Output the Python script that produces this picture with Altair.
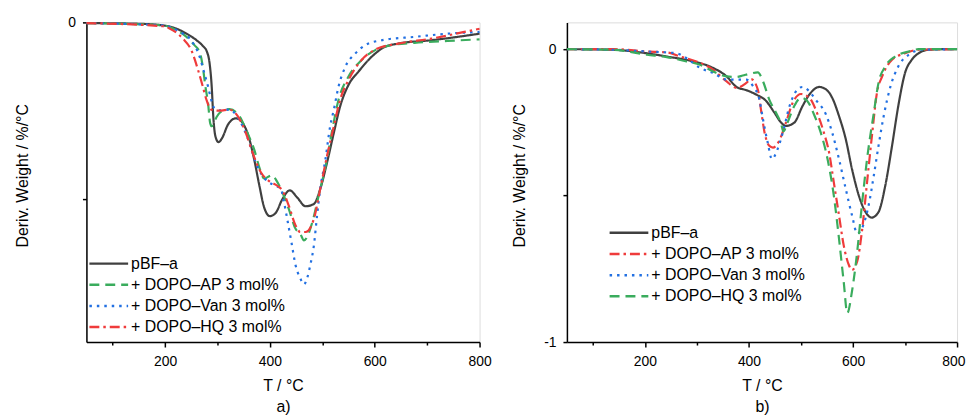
import altair as alt
import pandas as pd

FONT = "Liberation Sans"
NAMES = ["pBF–a", "+ DOPO–AP 3 mol%", "+ DOPO–Van 3 mol%", "+ DOPO–HQ 3 mol%"]

# ---------------- panel a) ----------------
TA_PBF = [50, 140, 196, 222, 241, 260, 272, 280, 285, 289, 292, 296, 302, 309, 320, 335, 348, 361, 370, 380,
          389, 400, 411, 424, 438, 452, 468, 484, 496, 509, 522, 534, 550, 569, 594, 619, 645, 708, 758, 800]
VA_PBF = [-0.004, -0.007, -0.017, -0.036, -0.064, -0.101, -0.133, -0.167, -0.232, -0.363, -0.532, -0.644,
          -0.678, -0.654, -0.579, -0.543, -0.569, -0.663, -0.775, -0.925, -1.047, -1.097, -1.079, -1.000,
          -0.951, -0.991, -1.041, -1.028, -0.944, -0.794, -0.625, -0.476, -0.354, -0.279, -0.195, -0.139,
          -0.120, -0.101, -0.082, -0.064]

TA_AP = [50, 196, 222, 241, 256, 266, 272, 277, 282, 286, 289, 294, 304, 323, 342, 357, 370, 380, 389, 404,
         414, 424, 436, 449, 458, 465, 481, 493, 509, 518, 531, 550, 575, 601, 632, 676, 739, 800]
VA_AP = [-0.004, -0.017, -0.045, -0.082, -0.129, -0.167, -0.251, -0.363, -0.457, -0.569, -0.588, -0.560,
         -0.513, -0.491, -0.532, -0.625, -0.719, -0.822, -0.884, -0.865, -0.903, -0.963, -1.056, -1.169,
         -1.197, -1.234, -1.131, -0.981, -0.775, -0.625, -0.438, -0.307, -0.213, -0.157, -0.129, -0.116,
         -0.105, -0.096]

TA_VAN = [50, 196, 228, 247, 266, 275, 282, 288, 294, 304, 323, 335, 348, 361, 373, 386, 398, 411, 421, 427,
          433, 441, 449, 458, 465, 471, 477, 484, 490, 496, 506, 515, 522, 531, 544, 563, 582, 613, 676, 739, 800]
VA_VAN = [-0.004, -0.017, -0.054, -0.092, -0.195, -0.288, -0.363, -0.438, -0.485, -0.498, -0.494, -0.522,
          -0.588, -0.682, -0.794, -0.869, -0.906, -0.925, -0.944, -1.019, -1.112, -1.243, -1.375, -1.449,
          -1.483, -1.449, -1.375, -1.262, -1.094, -0.944, -0.775, -0.588, -0.494, -0.363, -0.251, -0.176,
          -0.129, -0.101, -0.082, -0.064, -0.054]

TA_HQ = [50, 196, 215, 234, 250, 263, 272, 279, 288, 304, 323, 339, 354, 367, 383, 398, 414, 424, 436, 449,
         458, 468, 484, 496, 509, 522, 534, 550, 575, 601, 645, 708, 771, 800]
VA_HQ = [-0.004, -0.022, -0.045, -0.092, -0.157, -0.270, -0.363, -0.438, -0.494, -0.500, -0.494, -0.532,
         -0.625, -0.738, -0.850, -0.897, -0.925, -0.953, -1.037, -1.150, -1.187, -1.187, -1.112, -0.944,
         -0.757, -0.588, -0.438, -0.326, -0.213, -0.154, -0.120, -0.092, -0.054, -0.036]

# ---------------- panel b) ----------------
TB_PBF = [50, 140, 191, 242, 293, 331, 357, 376, 395, 414, 433, 449, 462, 471, 487, 503, 516, 535, 547, 560,
          573, 586, 598, 611, 624, 636, 649, 662, 675, 687, 700, 713, 726, 745, 776, 800]
VB_PBF = [0, -0.002, -0.011, -0.025, -0.042, -0.064, -0.093, -0.129, -0.140, -0.155, -0.177, -0.217, -0.251,
          -0.262, -0.251, -0.194, -0.155, -0.129, -0.136, -0.166, -0.228, -0.307, -0.409, -0.499, -0.556,
          -0.575, -0.556, -0.466, -0.330, -0.194, -0.081, -0.036, -0.014, -0.002, 0, 0]

TB_AP = [50, 140, 204, 242, 268, 299, 331, 357, 376, 395, 404, 417, 423, 430, 439, 446, 458, 471, 484, 500,
         516, 532, 544, 554, 563, 573, 582, 592, 598, 608, 617, 627, 637, 646, 656, 675, 700, 726, 800]
VB_AP = [0, 0, -0.008, -0.011, -0.025, -0.042, -0.070, -0.110, -0.132, -0.115, -0.102, -0.138, -0.206,
         -0.285, -0.330, -0.336, -0.313, -0.251, -0.183, -0.153, -0.166, -0.223, -0.285, -0.353, -0.454,
         -0.567, -0.669, -0.737, -0.754, -0.725, -0.624, -0.454, -0.285, -0.149, -0.093, -0.036, -0.014,
         -0.002, 0]

TB_VAN = [50, 140, 204, 261, 280, 306, 331, 357, 376, 395, 408, 420, 427, 436, 444, 455, 465, 478, 493, 503,
          516, 528, 548, 560, 573, 586, 598, 608, 617, 630, 640, 649, 659, 672, 687, 707, 732, 800]
VB_VAN = [0, -0.002, -0.008, -0.014, -0.031, -0.064, -0.081, -0.104, -0.104, -0.104, -0.127, -0.172, -0.240,
          -0.319, -0.375, -0.341, -0.285, -0.194, -0.138, -0.129, -0.144, -0.172, -0.223, -0.285, -0.375,
          -0.477, -0.567, -0.629, -0.612, -0.533, -0.431, -0.330, -0.228, -0.127, -0.059, -0.019, -0.002, 0]

TB_HQ = [50, 140, 204, 242, 280, 306, 331, 357, 376, 388, 401, 417, 427, 439, 452, 462, 466, 474, 487, 500,
         512, 525, 538, 551, 563, 573, 582, 589, 598, 608, 617, 627, 640, 649, 662, 681, 707, 726, 800]
VB_HQ = [0, -0.002, -0.019, -0.027, -0.042, -0.053, -0.076, -0.093, -0.095, -0.090, -0.084, -0.079, -0.110,
         -0.172, -0.217, -0.256, -0.281, -0.251, -0.194, -0.166, -0.177, -0.223, -0.285, -0.375, -0.499,
         -0.646, -0.793, -0.901, -0.827, -0.692, -0.533, -0.375, -0.217, -0.115, -0.059, -0.025, -0.008, 0, 0]

GRAY, GREEN, BLUE, RED = "#404040", "#3aac5d", "#2270e2", "#ef3b3b"
SOLID, DASH, DOT, DASHDOT = [1, 0], [10, 6], [2.5, 5], [10, 4, 2.5, 4]


def frame(series):
    rows = []
    for name, ts, vs in series:
        for t, v in zip(ts, vs):
            rows.append({"series": name, "T": t, "v": v})
    return pd.DataFrame(rows)


df_a = frame([(NAMES[0], TA_PBF, VA_PBF), (NAMES[1], TA_AP, VA_AP),
              (NAMES[2], TA_VAN, VA_VAN), (NAMES[3], TA_HQ, VA_HQ)])
df_b = frame([(NAMES[0], TB_PBF, VB_PBF), (NAMES[1], TB_AP, VB_AP),
              (NAMES[2], TB_VAN, VB_VAN), (NAMES[3], TB_HQ, VB_HQ)])


def xaxis(sub, flush):
    return alt.Axis(
        title=["T / °C", sub], values=[100, 200, 300, 400, 500, 600, 700, 800],
        labelExpr="datum.value % 200 == 0 ? datum.label : ''",
        tickSize={"condition": {"test": "datum.value % 200 == 0", "value": 5}, "value": 3},
        labelPadding=8, labelFontSize=14, labelFont=FONT, labelColor="black",
        labelFlush=flush, labelFlushOffset=8 if flush else 0, labelOverlap=False,
        titleFontSize=16, titleFont=FONT, titleFontWeight="normal", titleColor="black",
        titleLineHeight=21, titleY=36, titleBaseline="top",
        domainColor="black", domainWidth=1.5, tickColor="black", tickWidth=1.5, grid=False)


def yaxis(values, tx, ty):
    show_minus = "true" if -0.5 in values else "false"
    return alt.Axis(
        title="Deriv. Weight / %/°C", values=values,
        labelExpr="datum.value == 0 ? '0' : (datum.value == -1 && %s ? '-1' : '')" % show_minus,
        tickSize=4, labelPadding=7, labelFontSize=14, labelFont=FONT, labelColor="black",
        labelFlush=False, labelOverlap=False,
        titleFontSize=16, titleFont=FONT, titleFontWeight="normal", titleColor="black",
        titleX=tx, titleY=ty,
        domainColor="black", domainWidth=1.5, tickColor="black", tickWidth=1.5, grid=False)


def legend(lx, ly):
    return alt.Legend(title=None, orient="none", legendX=lx, legendY=ly,
                      symbolType="M-3,0H3", symbolSize=169, symbolStrokeWidth=2.5,
                      symbolOffset=11.5, labelOffset=14.5, labelFont=FONT, labelFontSize=16,
                      labelColor="black", rowPadding=5.3, padding=0, offset=0, labelLimit=400)


def panel(df, colors, dashes, ydom, yvals, tx, lx, ly, sub, width, flush):
    return alt.Chart(df).mark_line(strokeWidth=2.2, interpolate="monotone").encode(
        x=alt.X("T:Q", scale=alt.Scale(domain=[50, 800], nice=False, zero=False), axis=xaxis(sub, flush)),
        y=alt.Y("v:Q", scale=alt.Scale(domain=ydom, nice=False, zero=False), axis=yaxis(yvals, tx, 154)),
        color=alt.Color("series:N", scale=alt.Scale(domain=NAMES, range=colors), legend=legend(lx, ly)),
        strokeDash=alt.StrokeDash("series:N", scale=alt.Scale(domain=NAMES, range=dashes), legend=legend(lx, ly)),
    ).properties(width=width, height=322)


pa = panel(df_a, [GRAY, GREEN, BLUE, RED], [SOLID, DASH, DOT, DASHDOT],
           [-1.81, 0], [0, -1], -56, 3, 235, "a)", 396, False)
pb = panel(df_b, [GRAY, RED, BLUE, GREEN], [SOLID, DASHDOT, DOT, DASH],
           [-1, 0.0915], [0, -0.5, -1], -40, 43, 204, "b)", 393, True)

chart = alt.hconcat(pa, pb, spacing=88, bounds="flush").resolve_scale(
    color="independent", strokeDash="independent"
).properties(padding={"left": 6, "top": 5, "right": 0, "bottom": 0}).configure_view(stroke=None).configure(font=FONT)

chart.save("out.html", embed_options={"renderer": "svg", "actions": False})
